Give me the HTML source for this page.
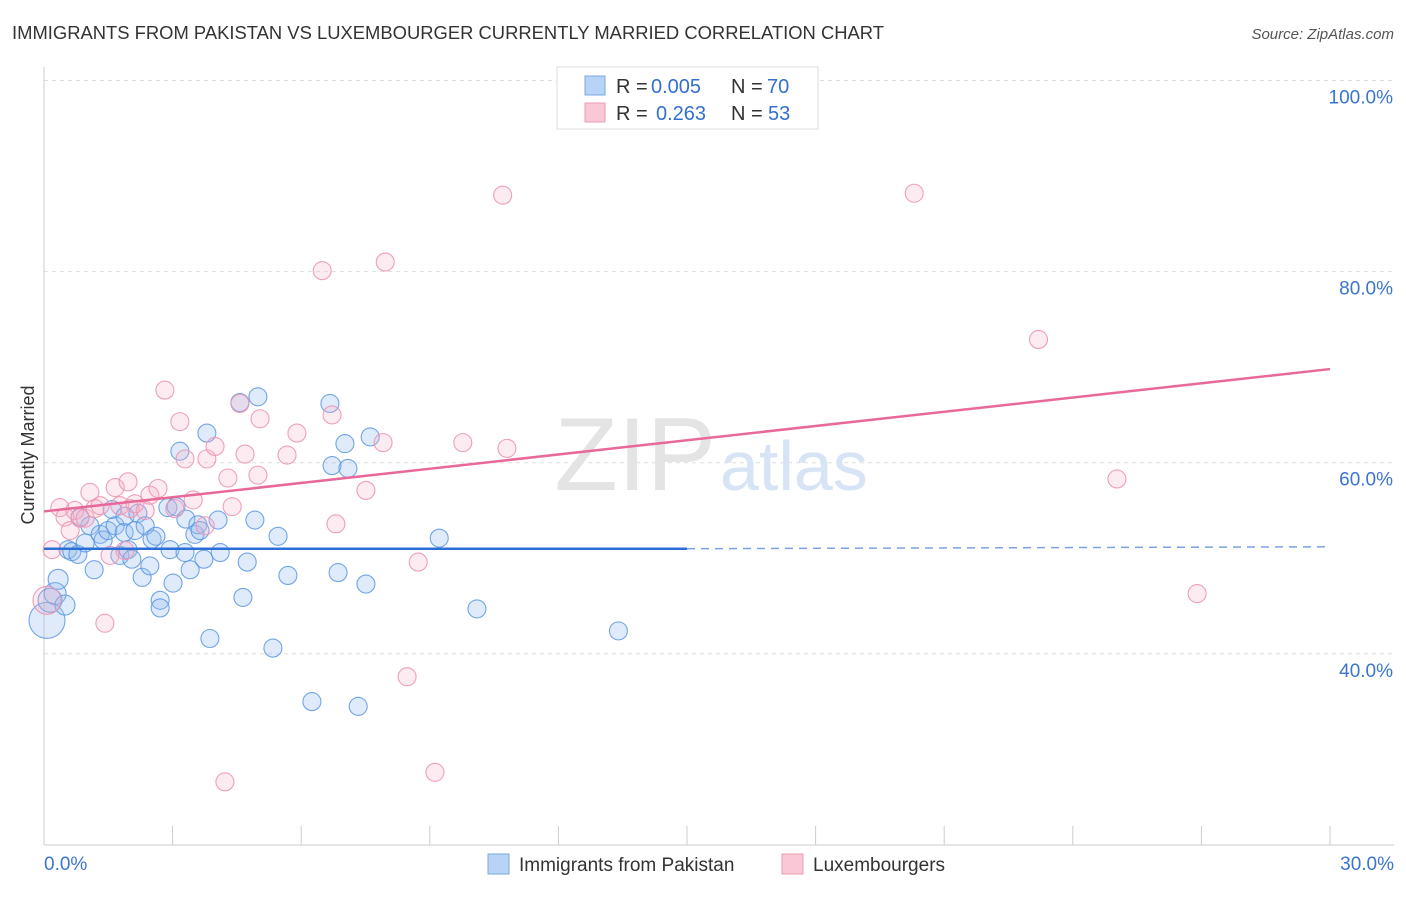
<!DOCTYPE html>
<html><head><meta charset="utf-8"><style>
body{margin:0;background:#fff;font-family:"Liberation Sans",sans-serif}
svg text{font-family:"Liberation Sans",sans-serif}
</style></head><body>
<svg id="c" width="1406" height="892" xmlns="http://www.w3.org/2000/svg">
<text x="12" y="39" font-size="18" fill="#333" textLength="872" lengthAdjust="spacingAndGlyphs">IMMIGRANTS FROM PAKISTAN VS LUXEMBOURGER CURRENTLY MARRIED CORRELATION CHART</text>
<text x="1394" y="39" font-size="15" fill="#555" font-style="italic" text-anchor="end">Source: ZipAtlas.com</text>
<text x="34" y="455" font-size="18" fill="#333" text-anchor="middle" transform="rotate(-90 34 455)">Currently Married</text>
<g id="grid"></g>
<g id="axes"></g>
<text x="716" y="490" font-size="104" fill="#e4e4e4" text-anchor="end" font-family="Liberation Serif">ZIP</text>
<text x="720" y="490" font-size="70" fill="#d6e4f5">atlas</text>
<g id="pts"></g>
<g id="lines"></g>
<g>
<rect x="557" y="67" width="261" height="62" fill="#fff" stroke="#ddd"/>
<rect x="585" y="76" width="20" height="19" fill="#b8d3f5" stroke="#7aa8e6"/>
<rect x="585" y="103" width="20" height="19" fill="#f9c8d6" stroke="#ee9ab2"/>
<g font-size="20">
<text x="616" y="93" fill="#333">R =</text><text x="651" y="93" fill="#3370d0">0.005</text>
<text x="731" y="93" fill="#333">N =</text><text x="767" y="93" fill="#3370d0">70</text></g>
<g font-size="20">
<text x="616" y="120" fill="#333">R =</text><text x="656" y="120" fill="#3370d0">0.263</text>
<text x="731" y="120" fill="#333">N =</text><text x="768" y="120" fill="#3370d0">53</text></g>
</g>
<g>
<rect x="488" y="854" width="21" height="20" fill="#b8d3f5" stroke="#7aa8e6"/>
<text x="519" y="871" font-size="19" fill="#333">Immigrants from Pakistan</text>
<rect x="782" y="854" width="21" height="20" fill="#f9c8d6" stroke="#ee9ab2"/>
<text x="813" y="871" font-size="19" fill="#333">Luxembourgers</text>
</g>
</svg>
<script>
const yTicks=[40,60,80,100];
const xTickCount=10;
const blueX=[0.07,0.14,0.26,0.33,0.49,0.56,0.65,0.79,0.84,0.96,1.07,1.17,1.31,1.38,1.49,1.59,1.66,1.77,1.87,1.89,1.96,2.05,2.12,2.19,2.29,2.36,2.47,2.52,2.61,2.71,2.71,2.89,2.94,3.01,3.08,3.17,3.31,3.29,3.41,3.52,3.59,3.64,3.73,3.80,3.87,4.06,4.11,4.57,4.64,4.74,4.92,4.99,5.34,5.46,5.69,6.25,6.67,6.72,6.86,7.02,7.09,7.33,7.51,7.61,9.22,10.1,13.4];
const blueY=[43.5,45.6,46.3,47.8,45.1,50.9,50.7,50.4,54.3,51.6,53.4,48.8,52.5,51.9,52.9,55.1,53.4,50.3,52.7,54.4,50.9,49.9,52.9,54.7,48.0,53.4,49.2,52.0,52.3,45.6,44.8,55.3,50.9,47.4,55.4,61.2,54.1,50.6,48.8,52.5,53.5,52.9,49.9,63.1,41.6,54.0,50.6,66.3,45.9,49.6,54.0,66.9,40.6,52.3,48.2,35.0,66.2,59.7,48.5,62.0,59.4,34.5,47.3,62.7,52.1,44.7,42.4];
const blueR=[18,12,11,10,10,9,9,9,9,9,9,9,9,9,9,9,9,9,9,9,9,9,9,9,9,9,9,9,9,9,9,9,9,9,9,9,9,9,9,9,9,9,9,9,9,9,9,9,9,9,9,9,9,9,9,9,9,9,9,9,9,9,9,9,9,9,9];
const pinkX=[0.07,0.19,0.37,0.49,0.61,0.72,0.84,0.96,1.07,1.19,1.31,1.42,1.54,1.66,1.77,1.89,1.96,2.01,2.12,2.36,2.47,2.66,2.82,3.05,3.17,3.29,3.48,3.76,3.80,3.99,4.22,4.29,4.39,4.57,4.69,4.99,5.04,5.67,5.90,6.49,6.72,6.81,7.51,7.91,7.96,8.47,8.73,9.12,9.77,10.7,10.8,20.3,23.2,25.03,26.9];
const pinkY=[45.6,50.9,55.3,54.3,52.9,55.0,54.2,54.2,56.9,55.2,55.5,43.2,50.3,57.4,55.5,50.8,58.0,55.2,55.7,55.0,56.6,57.3,67.6,55.2,64.3,60.4,56.1,53.4,60.4,61.7,26.6,58.4,55.4,66.2,60.9,58.7,64.6,60.8,63.1,80.1,65.0,53.6,57.1,62.1,81.0,37.6,49.6,27.6,62.1,88.0,61.5,88.2,72.9,58.3,46.3];
const pinkR=[14].concat(Array(54).fill(9));
const blueLine=[0,51.0,15,51.0,30,51.2];
const pinkLine=[0,54.9,30,69.8];
const X=v=>44+v/30*1286, Y=v=>1036-v*9.555;
const NS="http://www.w3.org/2000/svg";
function mk(tag,attrs,parent){const e=document.createElementNS(NS,tag);for(const k in attrs)e.setAttribute(k,attrs[k]);parent.appendChild(e);return e;}
const grid=document.getElementById('grid'),axes=document.getElementById('axes'),svg=document.getElementById('c');
yTicks.forEach(t=>{
 const l=mk('line',{x1:44,x2:1394,y1:Y(t),y2:Y(t),stroke:'#ddd','stroke-dasharray':'4,4'},grid);
 
 
 const tx=mk('text',{x:1393,y:Y(t)+23,'font-size':19,fill:'#3b75d0','text-anchor':'end'},svg);
 tx.textContent=t.toFixed(1)+'%';
 
 
});
const ax=mk('line',{x1:44,x2:44,y1:67,y2:845,stroke:'#ccc'},axes);


const bx=mk('line',{x1:44,x2:1394,y1:845,y2:845,stroke:'#ccc'},axes);


for(let i=0;i<=xTickCount;i++){
 const tk=mk('line',{x1:X(i*3),x2:X(i*3),y1:826,y2:845,stroke:'#ccc'},axes);
 
 
}
[[0,'0.0%',44,'start'],[30,'30.0%',1394,'end']].forEach(a=>{
 const t=mk('text',{x:a[2],y:870,'font-size':19,fill:'#3b75d0','text-anchor':a[3]},svg);
 t.textContent=a[1];
 
 
});
const pts=document.getElementById('pts');
blueX.forEach((v,i)=>{
 const c=mk('circle',{cx:X(v),cy:Y(blueY[i]),r:blueR[i],fill:'rgba(150,190,240,0.3)',stroke:'rgba(90,150,225,0.85)','stroke-width':1.1},pts);
 
 
});
pinkX.forEach((v,i)=>{
 const c=mk('circle',{cx:X(v),cy:Y(pinkY[i]),r:pinkR[i],fill:'rgba(245,175,198,0.25)',stroke:'rgba(236,150,180,0.9)','stroke-width':1.1},pts);
 
 
});
const lines=document.getElementById('lines');
const b1=mk('line',{x1:X(blueLine[0]),y1:Y(blueLine[1]),x2:X(blueLine[2]),y2:Y(blueLine[3]),stroke:'#2b6fd6','stroke-width':2.5},lines);


const b2=mk('line',{x1:X(blueLine[2]),y1:Y(blueLine[3]),x2:X(blueLine[4]),y2:Y(blueLine[5]),stroke:'#7aa3e0','stroke-width':1.5,'stroke-dasharray':'8,6'},lines);


const p1=mk('line',{x1:X(pinkLine[0]),y1:Y(pinkLine[1]),x2:X(pinkLine[2]),y2:Y(pinkLine[3]),stroke:'#e8689a','stroke-width':2.5},lines);


</script>
</body></html>
